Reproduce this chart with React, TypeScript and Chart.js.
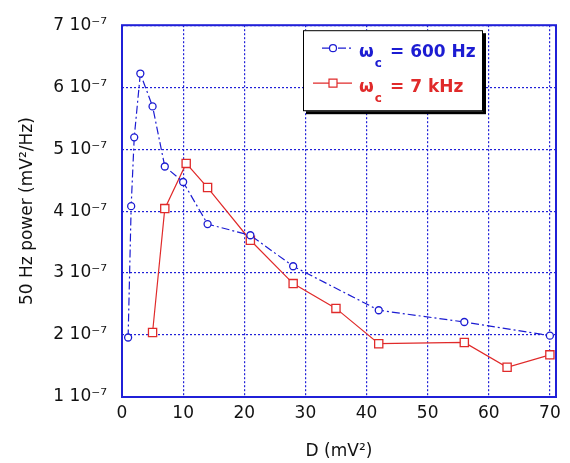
import React, { useEffect, useRef } from "react";
import { Chart, registerables } from "chart.js";

Chart.register(...registerables);

// ---- data ----
const blueD = [1, 1.5, 2, 3, 5, 7, 10, 14, 21, 28, 42, 56, 70];
const bluePower = [1.96e-7, 4.08e-7, 5.19e-7, 6.22e-7, 5.69e-7, 4.72e-7, 4.47e-7, 3.79e-7, 3.61e-7, 3.11e-7, 2.4e-7, 2.21e-7, 1.99e-7];
const redD = [5, 7, 10.5, 14, 21, 28, 35, 42, 56, 63, 70];
const redPower = [2.04e-7, 4.04e-7, 4.77e-7, 4.38e-7, 3.53e-7, 2.83e-7, 2.43e-7, 1.86e-7, 1.88e-7, 1.48e-7, 1.68e-7];
const xTicks = [0, 10, 20, 30, 40, 50, 60, 70];
const yTicks = [1e-7, 2e-7, 3e-7, 4e-7, 5e-7, 6e-7, 7e-7];
const yTickLabels = ["1 10⁻⁷", "2 10⁻⁷", "3 10⁻⁷", "4 10⁻⁷", "5 10⁻⁷", "6 10⁻⁷", "7 10⁻⁷"];
const seriesSymbol = ["ω", "ω"];
const seriesSub = ["c", "c"];
const seriesRest = ["= 600 Hz", "= 7 kHz"];
const xTitle = "D (mV²)";
const yTitle = "50 Hz power (mV²/Hz)";

const BLUE = "#1c1cd2";
const RED = "#e02a2a";
const AXIS = "#2020d8";
const FONT = "DejaVu Sans";
const BLUE_DASH = [8, 3, 2, 3];

const framePlugin = {
  id: "frameAndLegend",
  beforeDatasetsDraw(chart: any) {
    const { ctx, chartArea: a } = chart;
    ctx.save();
    ctx.setLineDash([]);
    ctx.strokeStyle = AXIS;
    ctx.lineWidth = 2;
    ctx.strokeRect(a.left, a.top, a.right - a.left, a.bottom - a.top);
    ctx.restore();
  },
  afterDraw(chart: any) {
    const { ctx, chartArea: a } = chart;
    const bx = a.right - 253;
    const by = a.top + 5;
    const bw = 180;
    const bh = 81;
    ctx.save();
    ctx.setLineDash([]);
    ctx.fillStyle = "#000";
    ctx.fillRect(bx + 3, by + 3, bw, bh);
    ctx.fillStyle = "#fff";
    ctx.fillRect(bx, by, bw, bh);
    ctx.strokeStyle = "#000";
    ctx.lineWidth = 1;
    ctx.strokeRect(bx + 0.5, by + 0.5, bw - 1, bh - 1);

    const rows = [
      { color: BLUE, ly: by + 18, lx0: bx + 19, dash: BLUE_DASH, shape: "circle" },
      { color: RED, ly: by + 53, lx0: bx + 10, dash: [] as number[], shape: "rect" },
    ];
    rows.forEach((r, i) => {
      ctx.strokeStyle = r.color;
      ctx.lineWidth = 1.2;
      ctx.setLineDash(r.dash);
      ctx.beginPath();
      ctx.moveTo(r.lx0, r.ly);
      ctx.lineTo(bx + 49, r.ly);
      ctx.stroke();
      ctx.setLineDash([]);
      const mx = bx + 30;
      ctx.fillStyle = "#fff";
      ctx.beginPath();
      if (r.shape === "circle") {
        ctx.arc(mx, r.ly, 3.5, 0, Math.PI * 2);
      } else {
        ctx.rect(mx - 4, r.ly - 4, 8, 8);
      }
      ctx.fill();
      ctx.stroke();

      const base = r.ly + 9;
      ctx.fillStyle = r.color;
      ctx.textBaseline = "alphabetic";
      ctx.font = `bold 17px "${FONT}"`;
      ctx.fillText(seriesSymbol[i], bx + 56, base);
      const w = ctx.measureText(seriesSymbol[i]).width;
      ctx.font = `bold 12px "${FONT}"`;
      ctx.fillText(seriesSub[i], bx + 57 + w, base + 10);
      ctx.font = `bold 17px "${FONT}"`;
      ctx.fillText(seriesRest[i], bx + 87, base);
    });
    ctx.restore();
  },
};

export default function App() {
  const canvasRef = useRef<HTMLCanvasElement | null>(null);

  useEffect(() => {
    const canvas = canvasRef.current;
    if (!canvas) return;
    const chart = new Chart(canvas, {
      type: "line",
      data: {
        datasets: [
          {
            label: seriesSymbol[0] + seriesSub[0] + " " + seriesRest[0],
            data: blueD.map((x, i) => ({ x, y: bluePower[i] })),
            borderColor: BLUE,
            backgroundColor: "#fff",
            borderWidth: 1.2,
            borderDash: BLUE_DASH,
            pointStyle: "circle",
            pointRadius: 3.5,
            pointBorderWidth: 1.3,
            pointBorderColor: BLUE,
            tension: 0,
          },
          {
            label: seriesSymbol[1] + seriesSub[1] + " " + seriesRest[1],
            data: redD.map((x, i) => ({ x, y: redPower[i] })),
            borderColor: RED,
            backgroundColor: "#fff",
            borderWidth: 1.2,
            pointStyle: "rect",
            pointRadius: 5.8,
            pointBorderWidth: 1.3,
            pointBorderColor: RED,
            tension: 0,
          },
        ],
      },
      options: {
        animation: false,
        responsive: true,
        maintainAspectRatio: false,
        layout: { padding: { top: 21, right: 14, left: 0, bottom: 0 } },
        plugins: {
          legend: { display: false },
          tooltip: { enabled: false },
        },
        scales: {
          x: {
            type: "linear",
            min: 0,
            max: 71,
            afterBuildTicks: (s: any) => {
              s.ticks = xTicks.map((v) => ({ value: v }));
            },
            afterFit: (s: any) => {
              s.height = 66;
            },
            ticks: {
              color: "#111",
              padding: 6,
              maxRotation: 0,
              font: { family: FONT, size: 17 },
              callback: (v: any) => String(v),
            },
            grid: { color: AXIS, lineWidth: 1.2, drawTicks: false },
            border: { display: false, dash: [2, 2] },
            title: {
              display: true,
              text: xTitle,
              color: "#111",
              font: { family: FONT, size: 17 },
              padding: { top: 0, bottom: 1 },
            },
          },
          y: {
            type: "linear",
            min: 1e-7,
            max: 7e-7,
            afterBuildTicks: (s: any) => {
              s.ticks = yTicks.map((v) => ({ value: v }));
            },
            afterFit: (s: any) => {
              s.width = 122;
            },
            ticks: {
              color: "#111",
              padding: 15,
              font: { family: FONT, size: 17 },
              callback: (v: any) => {
                const idx = yTicks.findIndex((t) => Math.abs(t - v) < 1e-12);
                return idx >= 0 ? yTickLabels[idx] : "";
              },
            },
            grid: { color: AXIS, lineWidth: 1.2, drawTicks: false },
            border: { display: false, dash: [2, 2] },
            title: {
              display: true,
              text: yTitle,
              color: "#111",
              font: { family: FONT, size: 17 },
              padding: { top: 17, bottom: 0 },
            },
          },
        },
      },
      plugins: [framePlugin],
    });
    return () => chart.destroy();
  }, []);

  return (
    <div style={{ position: "fixed", left: 0, top: 0, width: 570, height: 463, background: "#fff" }}>
      <canvas ref={canvasRef} />
    </div>
  );
}
